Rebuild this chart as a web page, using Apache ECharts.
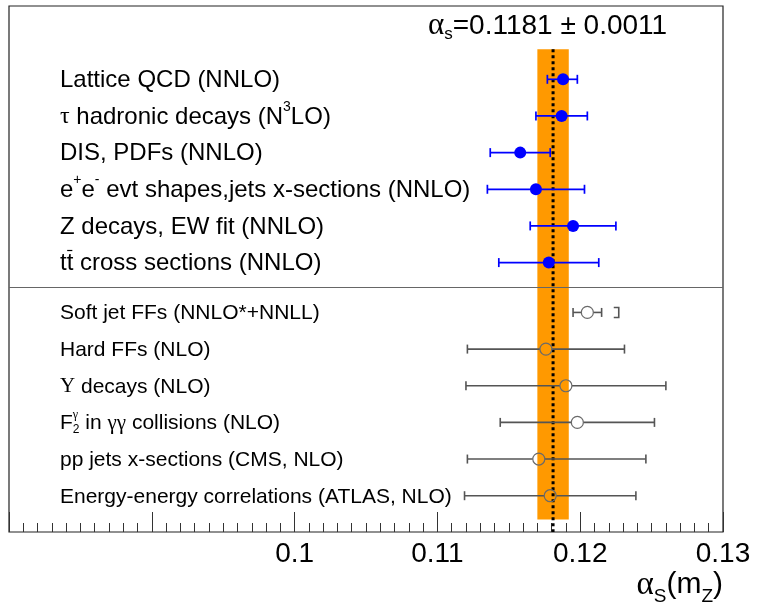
<!DOCTYPE html>
<html>
<head>
<meta charset="utf-8">
<script src="https://cdn.jsdelivr.net/npm/echarts@6/dist/echarts.min.js"></script>
<style>
  html, body { margin: 0; padding: 0; background: #fff; }
  #chart { width: 758px; height: 613px; }
</style>
</head>
<body>
<div id="chart"></div>
<script>
// Determinations of alpha_s(m_Z). Markup in the names: ^{..} superscript,
// _{..} subscript, #{..} overbar.
const topMethods = [
  'Lattice QCD (NNLO)',
  'τ hadronic decays (N^{3}LO)',
  'DIS, PDFs (NNLO)',
  'e^{+}e^{-} evt shapes,jets x-sections (NNLO)',
  'Z decays, EW fit (NNLO)',
  't#{t} cross sections (NNLO)'
];
const topValue = [0.1188, 0.1187, 0.1158, 0.1169, 0.1195, 0.1178];
const topLow   = [0.1177, 0.1169, 0.1137, 0.1135, 0.1165, 0.1143];
const topHigh  = [0.1198, 0.1205, 0.1179, 0.1203, 0.1225, 0.1213];

const bottomMethods = [
  'Soft jet FFs (NNLO*+NNLL)',
  'Hard FFs (NLO)',
  'Υ decays (NLO)',
  'F_{2}^{γ} in γγ collisions (NLO)',
  'pp jets x-sections (CMS, NLO)',
  'Energy-energy correlations (ATLAS, NLO)'
];
const bottomValue = [0.1205, 0.1176, 0.1190, 0.1198, 0.1171, 0.1179];
const bottomLow   = [0.1195, 0.1121, 0.1120, 0.1144, 0.1121, 0.1119];
const bottomHigh  = [0.1215, 0.1231, 0.1260, 0.1252, 0.1246, 0.1239];
const softJetBracket = 0.1227;

const worldAverage = 0.1181;
const worldUncertainty = 0.0011;

const axisMin = 0.08, axisMax = 0.13, axisStep = 0.01;
const labelledTicks = ['0.1', '0.11', '0.12', '0.13'];

// ---- layout helpers -------------------------------------------------------
const SANS = '"Liberation Sans", Arial, sans-serif';
const SERIF = '"Liberation Serif", "DejaVu Serif", serif';
const measureCtx = document.createElement('canvas').getContext('2d');
const fontOf = (size, serif) => size + 'px ' + (serif ? SERIF : SANS);
function textWidth(t, font) { measureCtx.font = font; return measureCtx.measureText(t).width; }

function parseMarkup(s) {
  const out = []; let buf = ''; let i = 0;
  while (i < s.length) {
    const c = s[i];
    if ((c === '^' || c === '_' || c === '#') && s[i + 1] === '{') {
      if (buf) { out.push({ kind: 'n', text: buf }); buf = ''; }
      const end = s.indexOf('}', i + 2);
      out.push({ kind: c === '^' ? 'sup' : c === '_' ? 'sub' : 'bar', text: s.slice(i + 2, end) });
      i = end + 1;
    } else { buf += c; i++; }
  }
  if (buf) out.push({ kind: 'n', text: buf });
  return out;
}
function splitGreek(t) {
  const runs = [];
  for (const ch of t) {
    const g = /[\u0370-\u03FF]/.test(ch);
    if (runs.length && runs[runs.length - 1].serif === g) runs[runs.length - 1].text += ch;
    else runs.push({ text: ch, serif: g });
  }
  return runs;
}
function textEl(text, x, y, font, color) {
  return { type: 'text', x: x, y: y, silent: true,
    style: { text: text, font: font, fill: color, align: 'left', verticalAlign: 'middle' } };
}
// Lays out one line of marked-up text starting at x0, vertically centred on yMid.
function layoutLine(markup, size, x0, yMid, color, opt) {
  opt = opt || {};
  const supDy = (opt.supDy != null ? opt.supDy : -0.42) * size;
  const subDy = (opt.subDy != null ? opt.subDy : 0.30) * size;
  const small = Math.round(size * (opt.scriptScale || 0.62));
  const greekScale = opt.greekScale || 1;
  const parts = parseMarkup(markup);
  const els = [];
  let x = x0;
  const placeScript = (p, xs) => {
    let w = 0;
    for (const run of splitGreek(p.text)) {
      const font = fontOf(small, run.serif);
      els.push(textEl(run.text, xs + w, yMid + (p.kind === 'sup' ? supDy : subDy), font, color));
      w += textWidth(run.text, font);
    }
    return w;
  };
  for (let k = 0; k < parts.length; k++) {
    const p = parts[k];
    if (p.kind === 'n' || p.kind === 'bar') {
      for (const run of splitGreek(p.text)) {
        const font = fontOf(run.serif ? Math.round(size * greekScale) : size, run.serif);
        els.push(textEl(run.text, x, yMid, font, color));
        const w = textWidth(run.text, font);
        if (p.kind === 'bar') {
          const yb = Math.round(yMid - 0.58 * size) + 0.5;
          els.push({ type: 'line', silent: true, shape: { x1: x + 0.5, y1: yb, x2: x + w - 1, y2: yb },
            style: { stroke: color, lineWidth: 1.2 } });
        }
        x += w;
      }
    } else {
      let w = placeScript(p, x);
      const next = parts[k + 1];
      if (next && (next.kind === 'sup' || next.kind === 'sub') && next.kind !== p.kind) {
        w = Math.max(w, placeScript(next, x));
        k++;
      }
      x += w;
    }
  }
  return { els: els, width: x - x0 };
}

// ---- rows -----------------------------------------------------------------
const sectionGap = 0.36;
const rowOf = (section, i) => section === 0 ? i : topMethods.length + sectionGap + i;
const separatorRow = (rowOf(0, topMethods.length - 1) + rowOf(1, 0)) / 2;
const bandTopRow = -0.82, bandBottomRow = rowOf(1, bottomMethods.length - 1) + 0.65;

const topRows = topValue.map((v, i) => [v, topLow[i], topHigh[i], rowOf(0, i)]);
const bottomRows = bottomValue.map((v, i) => [v, bottomLow[i], bottomHigh[i], rowOf(1, i)]);
const labelRows = topMethods.map((m, i) => [axisMin, rowOf(0, i), 0, i])
  .concat(bottomMethods.map((m, i) => [axisMin, rowOf(1, i), 1, i]));

const BLUE = '#0000ff';
const GREY_LINE = '#555555';
const GREY_MARK = '#6a6a6a';
const ORANGE = '#ff9900';

function errorBars(color, width, gapR) {
  return function (params, api) {
    const row = api.value(3);
    const pc = api.coord([api.value(0), row]);
    const pl = api.coord([api.value(1), row]);
    const ph = api.coord([api.value(2), row]);
    const y = pc[1], cap = 4.5;
    const st = { stroke: color, lineWidth: width };
    const seg = (x1, y1, x2, y2) => ({ type: 'line', shape: { x1, y1, x2, y2 }, style: st });
    const ch = [];
    if (gapR > 0) {
      ch.push(seg(pl[0], y, pc[0] - gapR, y));
      ch.push(seg(pc[0] + gapR, y, ph[0], y));
    } else {
      ch.push(seg(pl[0], y, ph[0], y));
    }
    ch.push(seg(pl[0], y - cap, pl[0], y + cap));
    ch.push(seg(ph[0], y - cap, ph[0], y + cap));
    return { type: 'group', children: ch };
  };
}

const chart = echarts.init(document.getElementById('chart'), null, { renderer: 'canvas' });

// Title and axis title
const titleMarkup = 'α_{s}=' + worldAverage.toFixed(4) + ' ± ' + worldUncertainty.toFixed(4);
const titleLine = layoutLine(titleMarkup, 28, 428, 26, '#000', { subDy: 0.3, greekScale: 1.1 });
const axisTitleOpt = { subDy: 0.38, greekScale: 1.1 };
const axisTitleProbe = layoutLine('α_{S}(m_{Z})', 30, 0, 0, '#000', axisTitleOpt);
const axisTitle = layoutLine('α_{S}(m_{Z})', 30, 723 - axisTitleProbe.width, 585, '#000', axisTitleOpt);

chart.setOption({
  animation: false,
  backgroundColor: '#fff',
  grid: { left: 9, right: 35, top: 6, bottom: 81, show: true, borderColor: '#222', borderWidth: 1.2,
    backgroundColor: 'transparent' },
  xAxis: {
    type: 'value', min: axisMin, max: axisMax, interval: axisStep, position: 'bottom',
    axisLine: { show: false, onZero: false },
    splitLine: { show: false },
    axisTick: { show: true, inside: true, length: 20, lineStyle: { color: '#333', width: 1 } },
    minorTick: { show: true, splitNumber: 10, length: 9, lineStyle: { color: '#333', width: 1 } },
    axisLabel: {
      margin: 8, fontSize: 28, color: '#000', fontFamily: SANS,
      formatter: v => { const s = String(+v.toFixed(3)); return labelledTicks.includes(s) ? s : ''; }
    }
  },
  yAxis: { type: 'value', inverse: true, min: -2, max: 12.35, show: false },
  graphic: [
    { type: 'group', children: titleLine.els },
    { type: 'group', children: axisTitle.els }
  ],
  series: [
    {
      // world average band and its central value
      type: 'custom', z: 1, silent: true,
      data: [[worldAverage, worldUncertainty]],
      renderItem: (params, api) => {
        const c = api.value(0), e = api.value(1);
        const a = api.coord([c - e, bandTopRow]);
        const b = api.coord([c + e, bandBottomRow]);
        const m = api.coord([c, bandTopRow]);
        const yBottom = params.coordSys.y + params.coordSys.height;
        return { type: 'group', children: [
          { type: 'rect', shape: { x: a[0], y: a[1], width: b[0] - a[0], height: b[1] - a[1] },
            style: { fill: ORANGE } },
          { type: 'line', shape: { x1: m[0], y1: m[1], x2: m[0], y2: yBottom },
            style: { stroke: '#000', lineWidth: 3, lineDash: [3, 3] } }
        ] };
      }
    },
    {
      // line between the two groups of determinations
      type: 'custom', z: 2, silent: true,
      data: [[axisMin, separatorRow]],
      renderItem: (params, api) => {
        const p = api.coord([api.value(0), api.value(1)]);
        const cs = params.coordSys;
        return { type: 'line', shape: { x1: cs.x, y1: p[1], x2: cs.x + cs.width, y2: p[1] },
          style: { stroke: '#666', lineWidth: 1.2 } };
      }
    },
    {
      type: 'custom', z: 3, silent: true, data: topRows,
      renderItem: errorBars(BLUE, 1.7, 0)
    },
    {
      type: 'custom', z: 3, silent: true, data: bottomRows,
      renderItem: errorBars(GREY_LINE, 1.6, 6)
    },
    {
      // bracket beside the soft-jet point
      type: 'custom', z: 3, silent: true,
      data: [[softJetBracket, rowOf(1, 0)]],
      renderItem: (params, api) => {
        const p = api.coord([api.value(0), api.value(1)]);
        const st = { stroke: GREY_LINE, lineWidth: 1.6, fill: null };
        return { type: 'polyline', shape: { points: [[p[0] - 5, p[1] - 5], [p[0], p[1] - 5], [p[0], p[1] + 5], [p[0] - 5, p[1] + 5]] },
          style: st };
      }
    },
    {
      type: 'scatter', z: 4, silent: true, symbol: 'circle', symbolSize: 12,
      itemStyle: { color: BLUE, opacity: 1 },
      data: topRows.map(r => [r[0], r[3]])
    },
    {
      type: 'scatter', z: 4, silent: true, symbol: 'circle', symbolSize: 12,
      itemStyle: { color: 'rgba(0,0,0,0)', borderColor: GREY_MARK, borderWidth: 1.2, opacity: 1 },
      data: bottomRows.map(r => [r[0], r[3]])
    },
    {
      // method names
      type: 'custom', z: 5, silent: true, data: labelRows,
      renderItem: (params, api) => {
        const p = api.coord([api.value(0), api.value(1)]);
        const section = api.value(2), idx = api.value(3);
        const markup = section === 0 ? topMethods[idx] : bottomMethods[idx];
        const size = section === 0 ? 24 : 21;
        const line = layoutLine(markup, size, params.coordSys.x + 51, p[1] + 1, '#000', { scriptScale: 0.58 });
        return { type: 'group', children: line.els };
      }
    }
  ]
});
</script>
</body>
</html>
